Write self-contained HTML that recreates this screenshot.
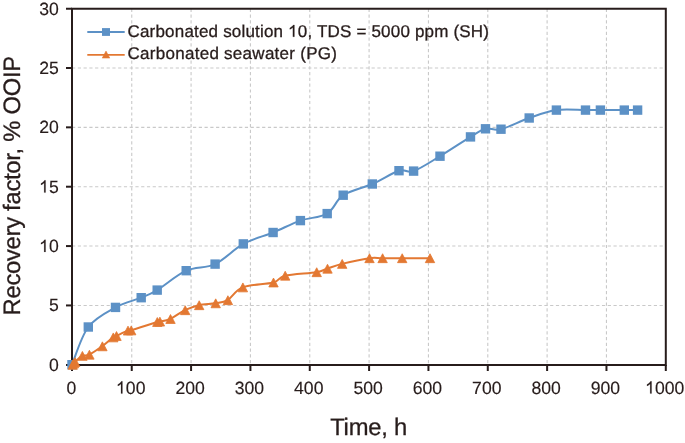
<!DOCTYPE html>
<html><head><meta charset="utf-8"><style>
html,body{margin:0;padding:0;background:#fff;}
svg{display:block;will-change:transform;text-rendering:geometricPrecision;}
text{font-family:"Liberation Sans",sans-serif;fill:#271c1b;stroke:#271c1b;stroke-width:0.3px;}
.lab text{stroke-width:0.15px;}
.lab path{fill:#271c1b;stroke:#271c1b;stroke-width:0.15px;vector-effect:non-scaling-stroke;}
.h{fill:none;stroke:none;}
.g{stroke:#c9c9c9;stroke-width:1.1;stroke-dasharray:3.2 2.56;}
</style></head><body>
<svg width="685" height="443" viewBox="0 0 685 443">
<rect width="685" height="443" fill="#fff"/>
<g><line x1="131.74" y1="8.74" x2="131.74" y2="364.00" class="g"/>
<line x1="191.08" y1="8.74" x2="191.08" y2="364.00" class="g"/>
<line x1="250.42" y1="8.74" x2="250.42" y2="364.00" class="g"/>
<line x1="309.76" y1="8.74" x2="309.76" y2="364.00" class="g"/>
<line x1="369.10" y1="8.74" x2="369.10" y2="364.00" class="g"/>
<line x1="428.44" y1="8.74" x2="428.44" y2="364.00" class="g"/>
<line x1="487.78" y1="8.74" x2="487.78" y2="364.00" class="g"/>
<line x1="547.12" y1="8.74" x2="547.12" y2="364.00" class="g"/>
<line x1="606.46" y1="8.74" x2="606.46" y2="364.00" class="g"/>
<line x1="72.05" y1="305.44" x2="664.80" y2="305.44" class="g"/>
<line x1="72.05" y1="246.07" x2="664.80" y2="246.07" class="g"/>
<line x1="72.05" y1="186.71" x2="664.80" y2="186.71" class="g"/>
<line x1="72.05" y1="127.34" x2="664.80" y2="127.34" class="g"/>
<line x1="72.05" y1="67.98" x2="664.80" y2="67.98" class="g"/></g>
<g stroke="#271c1b" stroke-width="2" fill="none">
<rect x="72.0" y="8.74" width="593.80" height="356.26"/>
<line x1="72.00" y1="365.00" x2="72.00" y2="371.00"/>
<line x1="131.74" y1="365.00" x2="131.74" y2="371.00"/>
<line x1="191.08" y1="365.00" x2="191.08" y2="371.00"/>
<line x1="250.42" y1="365.00" x2="250.42" y2="371.00"/>
<line x1="309.76" y1="365.00" x2="309.76" y2="371.00"/>
<line x1="369.10" y1="365.00" x2="369.10" y2="371.00"/>
<line x1="428.44" y1="365.00" x2="428.44" y2="371.00"/>
<line x1="487.78" y1="365.00" x2="487.78" y2="371.00"/>
<line x1="547.12" y1="365.00" x2="547.12" y2="371.00"/>
<line x1="606.46" y1="365.00" x2="606.46" y2="371.00"/>
<line x1="665.80" y1="365.00" x2="665.80" y2="371.00"/>
<line x1="66.00" y1="365.00" x2="72.00" y2="365.00"/>
<line x1="66.00" y1="305.44" x2="72.00" y2="305.44"/>
<line x1="66.00" y1="246.07" x2="72.00" y2="246.07"/>
<line x1="66.00" y1="186.71" x2="72.00" y2="186.71"/>
<line x1="66.00" y1="127.34" x2="72.00" y2="127.34"/>
<line x1="66.00" y1="67.98" x2="72.00" y2="67.98"/>
<line x1="66.00" y1="8.74" x2="72.00" y2="8.74"/>
</g>
<path d="M72.00,364.70 C74.72,358.42 81.05,336.55 88.30,327.00 C95.55,317.45 106.68,312.28 115.50,307.40 C124.32,302.52 134.25,300.58 141.20,297.70 C148.15,294.82 149.70,294.60 157.20,290.10 C164.70,285.60 176.55,275.03 186.20,270.70 C195.85,266.37 205.58,268.57 215.10,264.10 C224.62,259.63 233.63,249.17 243.30,243.90 C252.97,238.63 263.58,236.38 273.10,232.50 C282.62,228.62 291.38,223.75 300.40,220.60 C309.42,217.45 320.07,217.83 327.20,213.60 C334.33,209.37 335.68,200.13 343.20,195.20 C350.72,190.27 363.00,188.08 372.30,184.00 C381.60,179.92 392.12,172.85 399.00,170.70 C405.88,168.55 406.77,173.52 413.60,171.10 C420.43,168.68 430.52,161.90 440.00,156.20 C449.48,150.50 462.92,141.47 470.50,136.90 C478.08,132.33 480.42,130.08 485.50,128.80 C490.58,127.52 493.72,131.00 501.00,129.20 C508.28,127.40 519.97,121.18 529.20,118.00 C538.43,114.82 547.02,111.42 556.40,110.10 C565.78,108.78 578.17,110.10 585.50,110.10 C592.83,110.10 593.93,110.10 600.40,110.10 C606.87,110.10 618.10,110.10 624.30,110.10 C630.50,110.10 635.38,110.10 637.60,110.10" fill="none" stroke="#5c91c6" stroke-width="2"/>
<g fill="#5c91c6"><rect x="67.30" y="360.00" width="9.40" height="9.40"/>
<rect x="83.60" y="322.30" width="9.40" height="9.40"/>
<rect x="110.80" y="302.70" width="9.40" height="9.40"/>
<rect x="136.50" y="293.00" width="9.40" height="9.40"/>
<rect x="152.50" y="285.40" width="9.40" height="9.40"/>
<rect x="181.50" y="266.00" width="9.40" height="9.40"/>
<rect x="210.40" y="259.40" width="9.40" height="9.40"/>
<rect x="238.60" y="239.20" width="9.40" height="9.40"/>
<rect x="268.40" y="227.80" width="9.40" height="9.40"/>
<rect x="295.70" y="215.90" width="9.40" height="9.40"/>
<rect x="322.50" y="208.90" width="9.40" height="9.40"/>
<rect x="338.50" y="190.50" width="9.40" height="9.40"/>
<rect x="367.60" y="179.30" width="9.40" height="9.40"/>
<rect x="394.30" y="166.00" width="9.40" height="9.40"/>
<rect x="408.90" y="166.40" width="9.40" height="9.40"/>
<rect x="435.30" y="151.50" width="9.40" height="9.40"/>
<rect x="465.80" y="132.20" width="9.40" height="9.40"/>
<rect x="480.80" y="124.10" width="9.40" height="9.40"/>
<rect x="496.30" y="124.50" width="9.40" height="9.40"/>
<rect x="524.50" y="113.30" width="9.40" height="9.40"/>
<rect x="551.70" y="105.40" width="9.40" height="9.40"/>
<rect x="580.80" y="105.40" width="9.40" height="9.40"/>
<rect x="595.70" y="105.40" width="9.40" height="9.40"/>
<rect x="619.60" y="105.40" width="9.40" height="9.40"/>
<rect x="632.90" y="105.40" width="9.40" height="9.40"/></g>
<path d="M72.40,364.80 C72.60,364.57 73.20,363.85 73.60,363.40 C74.00,362.95 73.38,363.35 74.80,362.10 C76.22,360.85 79.72,357.13 82.10,355.90 C84.48,354.67 85.77,356.30 89.10,354.70 C92.43,353.10 98.12,349.18 102.10,346.30 C106.08,343.42 110.65,339.12 113.00,337.40 C115.35,335.68 113.75,337.13 116.20,336.00 C118.65,334.87 125.25,331.53 127.70,330.60 C130.15,329.67 126.02,331.83 130.90,330.40 C135.78,328.97 152.22,323.47 157.00,322.00 C161.78,320.53 157.40,322.10 159.60,321.60 C161.80,321.10 165.98,320.90 170.20,319.00 C174.42,317.10 180.12,312.50 184.90,310.20 C189.68,307.90 193.82,306.35 198.90,305.20 C203.98,304.05 210.62,304.13 215.40,303.30 C220.18,302.47 223.07,302.85 227.60,300.20 C232.13,297.55 235.00,290.35 242.60,287.40 C250.20,284.45 266.15,284.45 273.20,282.50 C280.25,280.55 277.70,277.42 284.90,275.70 C292.10,273.98 309.35,273.37 316.40,272.20 C323.45,271.03 322.95,270.08 327.20,268.70 C331.45,267.32 334.90,265.65 341.90,263.90 C348.90,262.15 362.47,259.15 369.20,258.20 C375.93,257.25 376.85,258.20 382.30,258.20 C387.75,258.20 394.00,258.20 401.90,258.20 C409.80,258.20 425.07,258.20 429.70,258.20" fill="none" stroke="#e37832" stroke-width="2"/>
<g fill="#e37832" stroke="#e37832" stroke-width="0.8" stroke-linejoin="round"><path d="M72.70,360.35 L77.40,369.25 L68.00,369.25 Z"/>
<path d="M73.90,358.95 L78.60,367.85 L69.20,367.85 Z"/>
<path d="M75.10,357.65 L79.80,366.55 L70.40,366.55 Z"/>
<path d="M82.40,351.45 L87.10,360.35 L77.70,360.35 Z"/>
<path d="M89.40,350.25 L94.10,359.15 L84.70,359.15 Z"/>
<path d="M102.40,341.85 L107.10,350.75 L97.70,350.75 Z"/>
<path d="M113.30,332.95 L118.00,341.85 L108.60,341.85 Z"/>
<path d="M116.50,331.55 L121.20,340.45 L111.80,340.45 Z"/>
<path d="M128.00,326.15 L132.70,335.05 L123.30,335.05 Z"/>
<path d="M131.20,325.95 L135.90,334.85 L126.50,334.85 Z"/>
<path d="M157.30,317.55 L162.00,326.45 L152.60,326.45 Z"/>
<path d="M159.90,317.15 L164.60,326.05 L155.20,326.05 Z"/>
<path d="M170.50,314.55 L175.20,323.45 L165.80,323.45 Z"/>
<path d="M185.20,305.75 L189.90,314.65 L180.50,314.65 Z"/>
<path d="M199.20,300.75 L203.90,309.65 L194.50,309.65 Z"/>
<path d="M215.70,298.85 L220.40,307.75 L211.00,307.75 Z"/>
<path d="M227.90,295.75 L232.60,304.65 L223.20,304.65 Z"/>
<path d="M242.90,282.95 L247.60,291.85 L238.20,291.85 Z"/>
<path d="M273.50,278.05 L278.20,286.95 L268.80,286.95 Z"/>
<path d="M285.20,271.25 L289.90,280.15 L280.50,280.15 Z"/>
<path d="M316.70,267.75 L321.40,276.65 L312.00,276.65 Z"/>
<path d="M327.50,264.25 L332.20,273.15 L322.80,273.15 Z"/>
<path d="M342.20,259.45 L346.90,268.35 L337.50,268.35 Z"/>
<path d="M369.50,253.75 L374.20,262.65 L364.80,262.65 Z"/>
<path d="M382.60,253.75 L387.30,262.65 L377.90,262.65 Z"/>
<path d="M402.20,253.75 L406.90,262.65 L397.50,262.65 Z"/>
<path d="M430.00,253.75 L434.70,262.65 L425.30,262.65 Z"/></g>
<g class="lab" font-size="17.8"><text transform="translate(71.40,393.60) scale(0.990,1)" text-anchor="middle">0</text>
<text transform="translate(130.74,393.60) scale(0.990,1)" text-anchor="middle"><tspan class="h">1</tspan>00</text>
<path transform="translate(130.74,393.60) scale(0.990,1) translate(-14.849,0) scale(0.00869,-0.00869)" d="M745,0 L575,0 L575,1100 C530,1057 470,1015 400,975 C330,935 265,905 205,885 L205,1050 C300,1095 385,1150 460,1215 C535,1280 590,1345 625,1409 L745,1409 Z"/>
<text transform="translate(190.08,393.60) scale(0.990,1)" text-anchor="middle">200</text>
<text transform="translate(249.42,393.60) scale(0.990,1)" text-anchor="middle">300</text>
<text transform="translate(308.76,393.60) scale(0.990,1)" text-anchor="middle">400</text>
<text transform="translate(368.10,393.60) scale(0.990,1)" text-anchor="middle">500</text>
<text transform="translate(427.44,393.60) scale(0.990,1)" text-anchor="middle">600</text>
<text transform="translate(486.78,393.60) scale(0.990,1)" text-anchor="middle">700</text>
<text transform="translate(546.12,393.60) scale(0.990,1)" text-anchor="middle">800</text>
<text transform="translate(605.46,393.60) scale(0.990,1)" text-anchor="middle">900</text>
<text transform="translate(664.80,393.60) scale(0.990,1)" text-anchor="middle"><tspan class="h">1</tspan>000</text>
<path transform="translate(664.80,393.60) scale(0.990,1) translate(-19.799,0) scale(0.00869,-0.00869)" d="M745,0 L575,0 L575,1100 C530,1057 470,1015 400,975 C330,935 265,905 205,885 L205,1050 C300,1095 385,1150 460,1215 C535,1280 590,1345 625,1409 L745,1409 Z"/>
<text transform="translate(58.80,370.70) scale(0.990,1)" text-anchor="end">0</text>
<text transform="translate(58.80,311.33) scale(0.990,1)" text-anchor="end">5</text>
<text transform="translate(58.80,251.97) scale(0.990,1)" text-anchor="end"><tspan class="h">1</tspan>0</text>
<path transform="translate(58.80,251.97) scale(0.990,1) translate(-19.799,0) scale(0.00869,-0.00869)" d="M745,0 L575,0 L575,1100 C530,1057 470,1015 400,975 C330,935 265,905 205,885 L205,1050 C300,1095 385,1150 460,1215 C535,1280 590,1345 625,1409 L745,1409 Z"/>
<text transform="translate(58.80,192.61) scale(0.990,1)" text-anchor="end"><tspan class="h">1</tspan>5</text>
<path transform="translate(58.80,192.61) scale(0.990,1) translate(-19.799,0) scale(0.00869,-0.00869)" d="M745,0 L575,0 L575,1100 C530,1057 470,1015 400,975 C330,935 265,905 205,885 L205,1050 C300,1095 385,1150 460,1215 C535,1280 590,1345 625,1409 L745,1409 Z"/>
<text transform="translate(58.80,133.24) scale(0.990,1)" text-anchor="end">20</text>
<text transform="translate(58.80,73.88) scale(0.990,1)" text-anchor="end">25</text>
<text transform="translate(58.80,14.51) scale(0.990,1)" text-anchor="end">30</text></g>
<text x="330.2" y="435" font-size="23.8" textLength="77">Time, h</text>
<text transform="translate(20,315.4) rotate(-90)" font-size="23.8" textLength="259.5">Recovery factor, % OOIP</text>
<g>
<line x1="87.3" y1="32" x2="124.7" y2="32" stroke="#5c91c6" stroke-width="1.8"/>
<rect x="102" y="28.1" width="8" height="7.8" fill="#5c91c6"/>
<line x1="87.3" y1="54.9" x2="124.7" y2="54.9" stroke="#e37832" stroke-width="1.8"/>
<path d="M106,51 L109.8,58.1 L102.2,58.1 Z" fill="#e37832" stroke="#e37832" stroke-width="0.5" stroke-linejoin="round"/>
<text x="127.5" y="36.7" font-size="17" textLength="361.5">Carbonated solution <tspan class="h">1</tspan>0, TDS = 5000 ppm (SH)</text>
<path fill="#271c1b" stroke="#271c1b" stroke-width="0.3" vector-effect="non-scaling-stroke" transform="translate(288.16,36.7) scale(0.008301,-0.008301)" d="M745,0 L575,0 L575,1100 C530,1057 470,1015 400,975 C330,935 265,905 205,885 L205,1050 C300,1095 385,1150 460,1215 C535,1280 590,1345 625,1409 L745,1409 Z"/>
<text x="127.5" y="59.3" font-size="17" textLength="209.5">Carbonated seawater (PG)</text>
</g>
</svg>
</body></html>
